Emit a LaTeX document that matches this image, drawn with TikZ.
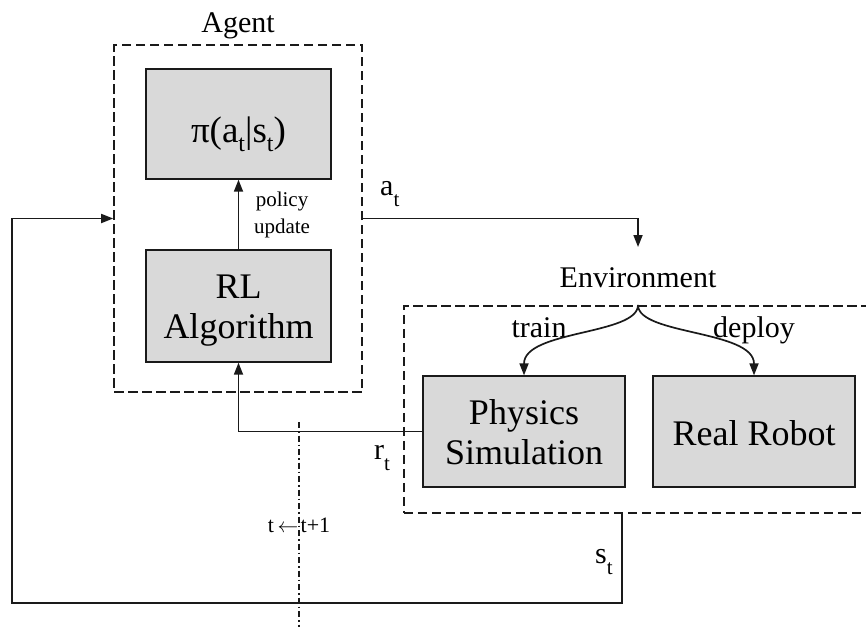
\documentclass[tikz,border=0pt]{standalone}
\usepackage{fontspec}
\setmainfont{Liberation Serif}
\usetikzlibrary{arrows.meta}
\definecolor{boxfill}{HTML}{D9D9D9}
\definecolor{inkc}{HTML}{1A1A1A}
\newcommand\lowt[2]{\raisebox{-#2}{\fontsize{#1}{#1}\selectfont t}}
\begin{document}
\begin{tikzpicture}[x=1pt,y=-1pt,
  gbox/.style={draw=inkc, line width=1.3pt, fill=boxfill, inner sep=0pt, align=center, font=\fontsize{36}{40}\selectfont, text=black},
  dbox/.style={draw=inkc, line width=1.7pt, dash pattern=on 9.5pt off 4.5pt, inner sep=0pt},
  arr/.style={draw=inkc, line width=1.7pt, -{Triangle[length=12pt,width=9pt]}},
  lbl/.style={font=\fontsize{30}{34}\selectfont, inner sep=0pt},
  tline/.style={draw=inkc, line width=1.3pt, dash pattern=on 6pt off 3pt on 1.5pt off 3pt},
]
\useasboundingbox (0,0) rectangle (866,627);
% dashed groups
\node[dbox, minimum width=248pt, minimum height=347pt] (agent) at (238,218.5) {};
\node[dbox, minimum width=480pt, minimum height=207pt, anchor=north west] (env) at (403,305) {};
% boxes
\node[gbox, minimum width=185pt, minimum height=110pt, font=\fontsize{37}{40}\selectfont, text height=40pt, text depth=4pt] (pi) at (238.5,124) {π(a\lowt{24pt}{9pt}|s\lowt{24pt}{9pt})};
\node[gbox, minimum width=185pt, minimum height=112pt] (rl) at (238.5,306) {\rule{0pt}{31.8pt}RL\\Algorithm};
\node[gbox, minimum width=202pt, minimum height=111pt] (phys) at (524,431.5) {\rule{0pt}{27pt}Physics\\Simulation};
\node[gbox, minimum width=202pt, minimum height=111pt, text height=27pt, text depth=0pt] (robot) at (754,431.5) {Real Robot};
% labels
\node[lbl, anchor=base] (agentlbl) at (238,32) {Agent};
\node[lbl, anchor=base] (envlbl) at (638,287) {Environment};
\node[lbl, anchor=base] (trainlbl) at (539,337) {train};
\node[lbl, anchor=base] (deploylbl) at (754,337) {deploy};
\node[lbl, anchor=base west] (atlbl) at (380,195) {a\lowt{21pt}{11pt}};
\node[lbl, anchor=base west] (rtlbl) at (374,459) {r\lowt{21pt}{11pt}};
\node[lbl, anchor=base west] (stlbl) at (595,563) {s\lowt{21pt}{11pt}};
\node[font=\fontsize{21}{27}\selectfont, align=center, inner sep=0pt] (pu) at (282,214.7) {policy\\update};
\node[font=\fontsize{22}{24}\selectfont, inner sep=0pt, anchor=base east] (tl) at (298.5,532) {t\,$\leftarrow$};
\node[font=\fontsize{22}{24}\selectfont, inner sep=0pt, anchor=base west] (tr) at (300.5,532) {t+1};
% coordinates
\coordinate (atEnd) at (638,247);
\coordinate (split) at (638,305);
\coordinate (sOut) at (622,512);
\coordinate (loopBL) at (12,603);
\coordinate (tTop) at (299,422);
\coordinate (tBot) at (299,627);
% connectors
\draw[arr] (rl.north) -- (pi.south);
\draw[arr] (agent.east) -| (atEnd);
\draw[arr] (split) .. controls (638,335) and (524,330) .. (phys.north);
\draw[arr] (split) .. controls (638,335) and (754,330) .. (robot.north);
\draw[arr] (phys.west) -| (rl.south);
\draw[arr] (sOut) |- (loopBL) |- (agent.west);
\draw[tline] (tTop) -- (tBot);
\end{tikzpicture}
\end{document}
